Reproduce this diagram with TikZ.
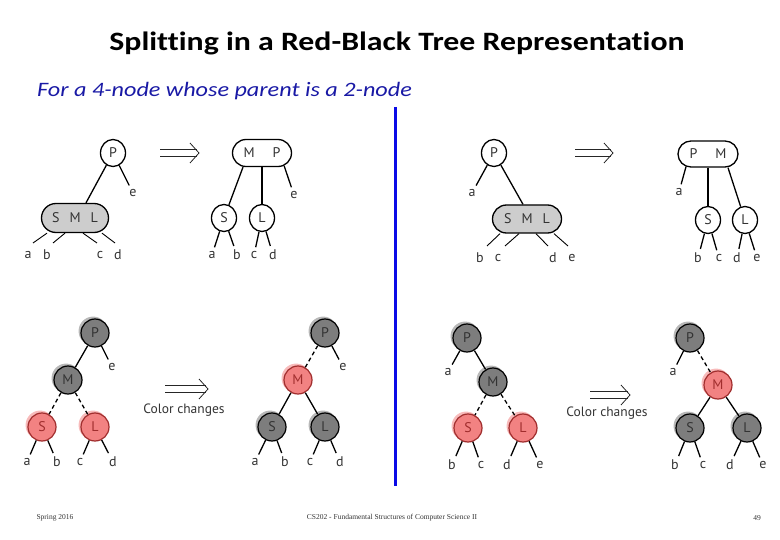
\documentclass[tikz,border=0pt]{standalone}
\usepackage{fontspec}
\setmainfont{Carlito}[Ligatures=CommonOff]
\newfontfamily\treefont{PT Sans}
\newfontfamily\footfont{Liberation Serif}
\usetikzlibrary{shapes.geometric,shapes.misc,shadows}
\definecolor{dgray}{RGB}{125,125,125}
\definecolor{rfill}{RGB}{242,130,130}
\definecolor{rdraw}{RGB}{160,45,45}
\definecolor{boxgray}{RGB}{205,205,205}
\definecolor{navy}{RGB}{25,25,165}
\definecolor{vblue}{RGB}{10,10,230}
\tikzset{
  tf/.style={font=\treefont\fontsize{14}{16}\selectfont, text=black!80},
  wnode/.style={ellipse, draw, line width=1.3pt, fill=white, minimum width=25pt, minimum height=27pt, inner sep=0pt, tf},
  bbox/.style={rounded rectangle, draw, line width=1.3pt, inner sep=0pt, tf},
  lf/.style={tf, inner sep=1pt},
  edge/.style={line width=1.3pt},
  thin/.style={line width=0.9pt},
  dsh/.style={line width=1.3pt, dash pattern=on 4pt off 3pt},
  leafe/.style={line width=1.3pt, shorten >=3pt},
  dnode/.style={circle, draw=black, line width=1.2pt, fill=dgray, minimum size=28pt, inner sep=0pt, tf,
     drop shadow={shadow xshift=-1.8pt, shadow yshift=1.8pt, shadow scale=1.04, fill=black!35, opacity=0.8}},
  rnode/.style={circle, draw=rdraw, line width=1.2pt, fill=rfill, minimum size=28pt, inner sep=0pt, tf, text=rdraw,
     drop shadow={shadow xshift=-1.8pt, shadow yshift=1.8pt, shadow scale=1.04, fill=rfill!60, opacity=0.9}},
  arl/.style={line width=0.8pt, black!85},
  cc/.style={font=\treefont\fontsize{13.5}{15}\selectfont, text=black!80}
}
% double "implies" arrow between two named coordinates
\newcommand{\dblarr}[2]{%
  \draw[arl] ([yshift=3.5pt]#1) -- ([xshift=-2pt,yshift=3.5pt]#2);
  \draw[arl] ([yshift=-3.5pt]#1) -- ([xshift=-2pt,yshift=-3.5pt]#2);
  \draw[arl] ([xshift=-9pt,yshift=10pt]#2) -- (#2) -- ([xshift=-9pt,yshift=-10pt]#2);}
\begin{document}
\begin{tikzpicture}[x=1pt,y=-1pt]
\useasboundingbox (0,0) rectangle (780,540);
% title
\node[font=\bfseries\fontsize{26.5}{30}\selectfont] (title) at (397,43) {\scalebox{1.2}[1]{Splitting in a Red-Black Tree Representation}};
\node[anchor=west, inner sep=0pt, font=\itshape\fontsize{20.5}{24}\selectfont, text=navy] (sub) at (37,91) {\scalebox{1.18}[1]{For a 4-node whose parent is a 2-node}};
% blue divider
\coordinate (v1) at (395,107);
\coordinate (v2) at (395,486);
\draw[vblue, line width=3pt] (v1) -- (v2);

% ===== Panel A left =====
\node[wnode] (pA) at (113,153) {P};
\node[bbox, fill=boxgray, minimum width=67pt, minimum height=29pt] (smlA) at (75,218) {S\hspace{10pt}M\hspace{10pt}L};
\node[lf] (eA) at (133,193) {e};
\node[lf] (aA) at (28,255) {a};
\node[lf] (bA) at (47,255) {b};
\node[lf] (cA) at (100,255) {c};
\node[lf] (dA) at (118,255) {d};
\draw[edge] (pA) -- ([xshift=11pt]smlA.north);
\draw[leafe] (pA) -- (eA);
\coordinate (qa) at (33,243);
\coordinate (qb) at (53,243);
\coordinate (qc) at (97,243);
\coordinate (qd) at (115,243);
\draw[thin] ([xshift=-28pt]smlA.south) -- (qa);
\draw[thin] ([xshift=-10pt]smlA.south) -- (qb);
\draw[thin] ([xshift=8pt]smlA.south) -- (qc);
\draw[thin] ([xshift=27pt]smlA.south) -- (qd);
% arrow A
\coordinate (arA1) at (160,153);
\coordinate (arA2) at (199,153);
\dblarr{arA1}{arA2}
% ===== Panel A right =====
\node[bbox, fill=white, minimum width=59pt, minimum height=27pt] (mpA) at (262,153) {M\hspace{18pt}P};
\node[wnode] (sA) at (224,218) {S};
\node[wnode] (lA) at (262,218) {L};
\node[lf] (eA2) at (294,195) {e};
\node[lf] (aA2) at (212,255) {a};
\node[lf] (bA2) at (237,255) {b};
\node[lf] (cA2) at (254,255) {c};
\node[lf] (dA2) at (273,255) {d};
\draw[edge] ([xshift=-19pt]mpA.south) -- (sA);
\draw[edge] (mpA.south) -- (lA);
\draw[leafe] (mpA.-30) -- (eA2);
\draw[leafe] (sA) -- (aA2);
\draw[leafe] (sA) -- (bA2);
\draw[leafe] (lA) -- (cA2);
\draw[leafe] (lA) -- (dA2);

% ===== Panel B left =====
\node[wnode] (pB) at (494,153) {P};
\node[bbox, fill=boxgray, minimum width=69pt, minimum height=28pt] (smlB) at (527,219) {S\hspace{10pt}M\hspace{10pt}L};
\node[lf] (aB) at (472,193) {a};
\node[lf] (bB) at (480,258) {b};
\node[lf] (cB) at (498,258) {c};
\node[lf] (dB) at (553,258) {d};
\node[lf] (eB) at (572,258) {e};
\draw[leafe] (pB) -- (aB);
\draw[edge] (pB) -- ([xshift=-4pt]smlB.north);
\coordinate (rb) at (487,246);
\coordinate (rc) at (505,246);
\coordinate (rd) at (548,246);
\coordinate (re) at (568,246);
\draw[thin] ([xshift=-27pt]smlB.south) -- (rb);
\draw[thin] ([xshift=-8pt]smlB.south) -- (rc);
\draw[thin] ([xshift=9pt]smlB.south) -- (rd);
\draw[thin] ([xshift=27pt]smlB.south) -- (re);
% arrow B
\coordinate (arB1) at (575,153);
\coordinate (arB2) at (613,153);
\dblarr{arB1}{arB2}
% ===== Panel B right =====
\node[bbox, fill=white, minimum width=60pt, minimum height=26pt] (pmB) at (708,154) {P\hspace{18pt}M};
\node[wnode] (sB) at (708,220) {S};
\node[wnode] (lB) at (745,220) {L};
\node[lf] (aB2) at (679,192) {a};
\node[lf] (bB2) at (698,258) {b};
\node[lf] (cB2) at (719,258) {c};
\node[lf] (dB2) at (737,258) {d};
\node[lf] (eB2) at (757,258) {e};
\draw[leafe] (pmB.-150) -- (aB2);
\draw[edge] (pmB.south) -- (sB);
\draw[edge] ([xshift=20pt]pmB.south) -- (lB);
\draw[leafe] (sB) -- (bB2);
\draw[leafe] (sB) -- (cB2);
\draw[leafe] (lB) -- (dB2);
\draw[leafe] (lB) -- (eB2);

% ===== Panel C left =====
\node[dnode] (pC) at (95,333) {P};
\node[dnode] (mC) at (68,380) {M};
\node[rnode] (sC) at (42,427) {S};
\node[rnode] (lC) at (95,427) {L};
\node[lf] (eC) at (112,367) {e};
\node[lf] (aC) at (27,462) {a};
\node[lf] (bC) at (57,462) {b};
\node[lf] (cC) at (80,462) {c};
\node[lf] (dC) at (113,462) {d};
\draw[edge] (pC) -- (mC);
\draw[leafe] (pC) -- (eC);
\draw[dsh] (mC) -- (sC);
\draw[dsh] (mC) -- (lC);
\draw[leafe] (sC) -- (aC);
\draw[leafe] (sC) -- (bC);
\draw[leafe] (lC) -- (cC);
\draw[leafe] (lC) -- (dC);
% arrow C
\coordinate (arC1) at (165,389);
\coordinate (arC2) at (208,389);
\dblarr{arC1}{arC2}
\node[cc] (ccC) at (184,410) {Color changes};
% ===== Panel C right =====
\node[dnode] (pC2) at (325,333) {P};
\node[rnode] (mC2) at (298,380) {M};
\node[dnode] (sC2) at (272,427) {S};
\node[dnode] (lC2) at (325,427) {L};
\node[lf] (eC2) at (343,367) {e};
\node[lf] (aC2) at (255,462) {a};
\node[lf] (bC2) at (285,462) {b};
\node[lf] (cC2) at (310,462) {c};
\node[lf] (dC2) at (340,462) {d};
\draw[dsh] (pC2) -- (mC2);
\draw[leafe] (pC2) -- (eC2);
\draw[edge] (mC2) -- (sC2);
\draw[edge] (mC2) -- (lC2);
\draw[leafe] (sC2) -- (aC2);
\draw[leafe] (sC2) -- (bC2);
\draw[leafe] (lC2) -- (cC2);
\draw[leafe] (lC2) -- (dC2);

% ===== Panel D left =====
\node[dnode] (pD) at (467,338) {P};
\node[dnode] (mD) at (493,382) {M};
\node[rnode] (sD) at (468,428) {S};
\node[rnode] (lD) at (523,428) {L};
\node[lf] (aD) at (448,372) {a};
\node[lf] (bD) at (452,465) {b};
\node[lf] (cD) at (481,465) {c};
\node[lf] (dD) at (507,465) {d};
\node[lf] (eD) at (540,465) {e};
\draw[leafe] (pD) -- (aD);
\draw[edge] (pD) -- (mD);
\draw[dsh] (mD) -- (sD);
\draw[dsh] (mD) -- (lD);
\draw[leafe] (sD) -- (bD);
\draw[leafe] (sD) -- (cD);
\draw[leafe] (lD) -- (dD);
\draw[leafe] (lD) -- (eD);
% arrow D
\coordinate (arD1) at (590,395);
\coordinate (arD2) at (630,395);
\dblarr{arD1}{arD2}
\node[cc] (ccD) at (607,413) {Color changes};
% ===== Panel D right =====
\node[dnode] (pD2) at (690,338) {P};
\node[rnode] (mD2) at (718,385) {M};
\node[dnode] (sD2) at (690,428) {S};
\node[dnode] (lD2) at (747,428) {L};
\node[lf] (aD2) at (673,372) {a};
\node[lf] (bD2) at (675,465) {b};
\node[lf] (cD2) at (703,465) {c};
\node[lf] (dD2) at (730,465) {d};
\node[lf] (eD2) at (763,465) {e};
\draw[leafe] (pD2) -- (aD2);
\draw[dsh] (pD2) -- (mD2);
\draw[edge] (mD2) -- (sD2);
\draw[edge] (mD2) -- (lD2);
\draw[leafe] (sD2) -- (bD2);
\draw[leafe] (sD2) -- (cD2);
\draw[leafe] (lD2) -- (dD2);
\draw[leafe] (lD2) -- (eD2);

% footer
\node[font=\footfont\fontsize{7.5}{9}\selectfont, text=black!80] (f1) at (55,518) {Spring 2016};
\node[font=\footfont\fontsize{7.5}{9}\selectfont, text=black!80] (f2) at (392,518) {CS202 - Fundamental Structures of Computer Science II};
\node[font=\footfont\fontsize{7.5}{9}\selectfont, text=black!80] (f3) at (757,518) {49};
\end{tikzpicture}
\end{document}
